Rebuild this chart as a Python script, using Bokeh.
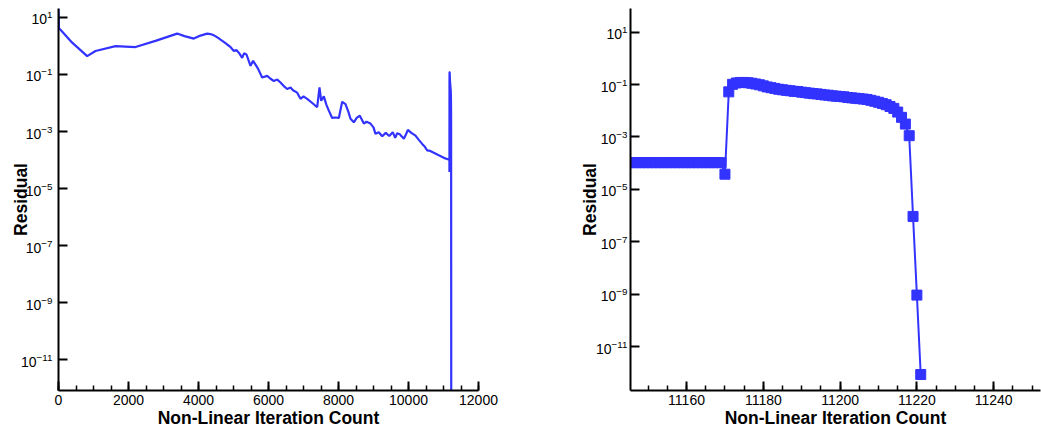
from bokeh.plotting import figure
from bokeh.layouts import row
from bokeh.models import Range1d, FixedTicker, SingleIntervalTicker, ColumnDataSource
from bokeh.embed import file_html
from bokeh.resources import INLINE

# ---- data -------------------------------------------------------------------
# convergence history before the final restart (readings of the curve)
iters_hist = [0, 15, 57, 391, 819, 1057, 1629, 2200, 2771, 3390, 3600, 3867,
              4057, 4248, 4343, 4420, 4480, 4560, 4629, 4700, 4819, 4900, 5010,
              5080, 5152, 5248, 5300, 5371, 5486, 5560, 5629, 5700, 5819, 5962,
              6050, 6152, 6250, 6343, 6430, 6533, 6629, 6700, 6819, 6914, 7000,
              7105, 7250, 7391, 7457, 7505, 7581, 7650, 7724, 7819, 7900, 8010,
              8105, 8200, 8280, 8343, 8438, 8520, 8610, 8724, 8800, 8914, 9000,
              9057, 9150, 9250, 9350, 9450, 9550, 9620, 9676, 9750, 9820, 9867,
              9930, 9981, 10080, 10200, 10300, 10391, 10460, 10533, 10620, 10724,
              10850, 11010, 11144]
resid_hist = [20.0, 4.0, 3.7, 1.3, 0.44, 0.66, 0.98, 0.91, 1.5, 2.7, 2.2, 1.8,
              2.3, 2.7, 2.6, 2.4, 2.2, 1.9, 1.66, 1.45, 1.12, 0.95, 0.66,
              0.72, 0.58, 0.38, 0.55, 0.50, 0.20, 0.30, 0.22, 0.16, 0.078, 0.089,
              0.072, 0.059, 0.066, 0.052, 0.040, 0.031, 0.035, 0.028, 0.023,
              0.014, 0.017, 0.014, 0.010, 0.0071, 0.035, 0.012, 0.017, 0.0090,
              0.0054, 0.0030, 0.0031, 0.0030, 0.011, 0.0091, 0.0050, 0.0028,
              0.0021, 0.0030, 0.0036, 0.0019, 0.0022, 0.0019, 0.0014, 0.00083,
              0.00095, 0.00068, 0.0009, 0.0007, 0.00095, 0.0006, 0.00087, 0.0008,
              0.00065, 0.00056, 0.0008, 0.00115, 0.0009, 0.00072, 0.0005, 0.00037,
              0.00030, 0.00022, 0.00021, 0.00018, 0.00015, 0.00012, 0.000105]

# final iterations, one value per non-linear iteration (right-hand zoom)
iters_final = [11145, 11146, 11147, 11148, 11149, 11150, 11151, 11152, 11153,
               11154, 11155, 11156, 11157, 11158, 11159, 11160, 11161, 11162,
               11163, 11164, 11165, 11166, 11167, 11168, 11169, 11170, 11171,
               11172, 11173, 11174, 11175, 11176, 11177, 11178, 11179, 11180,
               11181, 11182, 11183, 11184, 11185, 11186, 11187, 11188, 11189,
               11190, 11191, 11192, 11193, 11194, 11195, 11196, 11197, 11198,
               11199, 11200, 11201, 11202, 11203, 11204, 11205, 11206, 11207,
               11208, 11209, 11210, 11211, 11212, 11213, 11214, 11215, 11216,
               11217, 11218, 11219, 11220, 11221]
resid_final = [1.05e-4, 1.05e-4, 1.05e-4, 1.05e-4, 1.05e-4, 1.05e-4, 1.05e-4,
               1.05e-4, 1.05e-4, 1.05e-4, 1.05e-4, 1.05e-4, 1.05e-4, 1.05e-4,
               1.05e-4, 1.05e-4, 1.05e-4, 1.05e-4, 1.05e-4, 1.05e-4, 1.05e-4,
               1.05e-4, 1.05e-4, 1.05e-4, 1.05e-4, 3.8e-5, 0.0525,
               0.102, 0.115, 0.120, 0.120, 0.117, 0.112, 0.105, 0.098, 0.089,
               0.081, 0.076, 0.071, 0.066, 0.063, 0.060, 0.058, 0.055, 0.054,
               0.051, 0.049, 0.047, 0.045, 0.044, 0.042, 0.040, 0.039, 0.037,
               0.036, 0.035, 0.034, 0.032, 0.031, 0.030, 0.029, 0.028, 0.027,
               0.025, 0.023, 0.021, 0.019, 0.017, 0.0145, 0.0123, 0.0089, 0.0056,
               0.0031, 0.00112, 9.3e-7, 9.3e-10, 8.7e-13]

y_ticks = [1e1, 1e-1, 1e-3, 1e-5, 1e-7, 1e-9, 1e-11]

iters_all = iters_hist + iters_final
resid_all = resid_hist + resid_final
src = ColumnDataSource(data=dict(it=iters_all, res=resid_all))

BLUE = "#3333ff"
FONT = "Liberation Sans"


def style(p, tick_standoff, label_standoff):
    p.outline_line_color = None
    p.xgrid.visible = False
    p.ygrid.visible = False
    p.background_fill_color = "white"
    p.border_fill_color = "white"
    for ax in (p.xaxis[0], p.yaxis[0]):
        ax.axis_line_width = 2
        ax.axis_line_color = "black"
        ax.major_tick_in = 9
        ax.major_tick_out = 0
        ax.major_tick_line_width = 2
        ax.minor_tick_in = 5
        ax.minor_tick_out = 0
        ax.minor_tick_line_width = 1.5
        ax.major_label_text_font = FONT
        ax.major_label_text_font_size = "14px"
        ax.major_label_text_color = "black"
        ax.axis_label_text_font = FONT
        ax.axis_label_text_font_style = "bold"
        ax.axis_label_text_font_size = "17.5px"
        ax.axis_label_text_color = "black"
    p.xaxis.axis_label = "Non-Linear Iteration Count"
    p.yaxis.axis_label = "Residual"
    p.xaxis.major_label_standoff = 4
    p.xaxis.axis_label_standoff = 0
    p.yaxis.major_label_standoff = tick_standoff
    p.yaxis.axis_label_standoff = label_standoff
    p.yaxis.ticker = FixedTicker(ticks=y_ticks, minor_ticks=[])


# ---- left: full history ------------------------------------------------------
p1 = figure(width=560, height=430, output_backend="svg", toolbar_location=None,
            y_axis_type="log",
            x_range=Range1d(0, 12000),
            y_range=Range1d(10 ** -12.07, 10 ** 1.31),
            min_border_left=58, min_border_right=82,
            min_border_top=8, min_border_bottom=38)
style(p1, 6, -13)
p1.xaxis.ticker = SingleIntervalTicker(interval=2000, num_minor_ticks=4)
p1.line("it", "res", source=src, line_color=BLUE, line_width=2.2)

# ---- right: zoom on last iterations -------------------------------------------
p2 = figure(width=481, height=430, output_backend="svg", toolbar_location=None,
            y_axis_type="log",
            x_range=Range1d(11145.4, 11252.2),
            y_range=Range1d(10 ** -12.67, 10 ** 1.9),
            min_border_left=70, min_border_right=1,
            min_border_top=8, min_border_bottom=38)
style(p2, 3, -7)
p2.xaxis.ticker = SingleIntervalTicker(interval=20, num_minor_ticks=4)
p2.line("it", "res", source=src, line_color=BLUE, line_width=2)
p2.scatter("it", "res", source=src, marker="square", size=10,
           fill_color=BLUE, line_color=BLUE)

layout = row(p1, p2, spacing=0)
open("out.html", "w").write(file_html(layout, INLINE))
